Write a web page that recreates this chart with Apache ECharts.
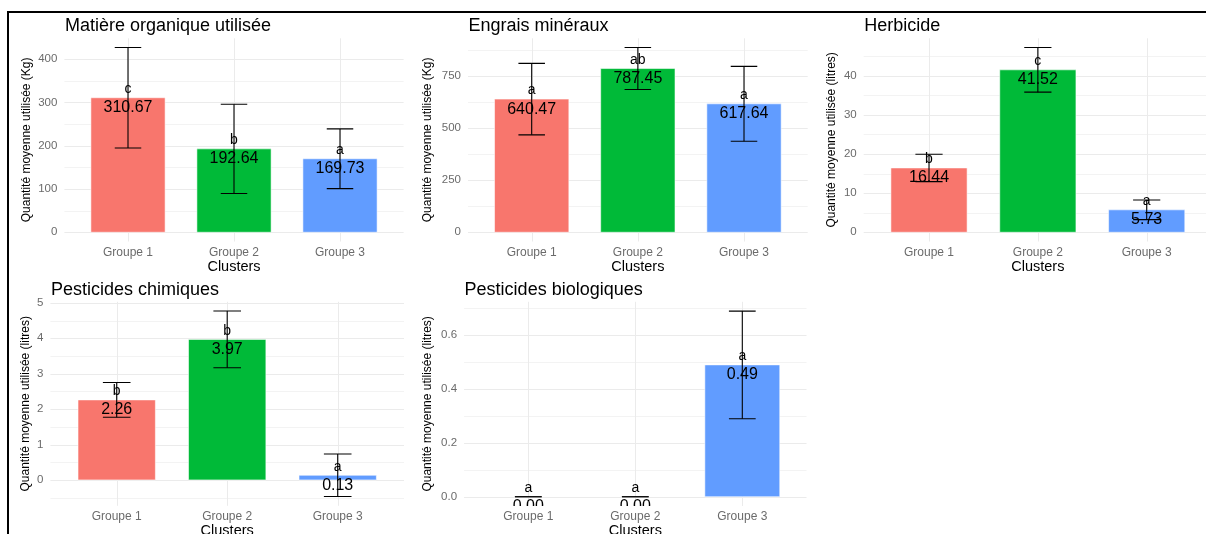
<!DOCTYPE html>
<html><head><meta charset="utf-8">
<script src="https://cdn.jsdelivr.net/npm/echarts@6/dist/echarts.min.js"></script>
<style>html,body{margin:0;padding:0;background:#fff}#c{width:1206px;height:534px}</style>
</head><body><div id="c"></div>
<script>
const categories = ['Groupe 1', 'Groupe 2', 'Groupe 3'];
const groupColors = ['#F8766D', '#00BA38', '#619CFF'];
const panelTitles = ['Matière organique utilisée', 'Engrais minéraux', 'Herbicide', 'Pesticides chimiques', 'Pesticides biologiques'];
const yTitles = ['Quantité moyenne utilisée (Kg)', 'Quantité moyenne utilisée (Kg)', 'Quantité moyenne utilisée (litres)', 'Quantité moyenne utilisée (litres)', 'Quantité moyenne utilisée (litres)'];
const xTitle = 'Clusters';

const organiqueMean = [310.67, 192.64, 169.73];
const organiqueSd = [116, 103, 69];
const organiqueLetters = ['c', 'b', 'a'];
const organiqueTicks = [0, 100, 200, 300, 400];
const organiqueTickLabels = ['0', '100', '200', '300', '400'];
const organiqueMinor = [50, 150, 250, 350, 450];

const engraisMean = [640.47, 787.45, 617.64];
const engraisSd = [172, 101, 180];
const engraisLetters = ['a', 'ab', 'a'];
const engraisTicks = [0, 250, 500, 750];
const engraisTickLabels = ['0', '250', '500', '750'];
const engraisMinor = [125, 375, 625, 875];

const herbicideMean = [16.44, 41.52, 5.73];
const herbicideSd = [3.5, 5.7, 2.5];
const herbicideLetters = ['b', 'c', 'a'];
const herbicideTicks = [0, 10, 20, 30, 40];
const herbicideTickLabels = ['0', '10', '20', '30', '40'];
const herbicideMinor = [5, 15, 25, 35, 45];

const chimiquesMean = [2.26, 3.97, 0.13];
const chimiquesSd = [0.49, 0.80, 0.60];
const chimiquesLetters = ['b', 'b', 'a'];
const chimiquesTicks = [0, 1, 2, 3, 4, 5];
const chimiquesTickLabels = ['0', '1', '2', '3', '4', '5'];
const chimiquesMinor = [-0.5, 0.5, 1.5, 2.5, 3.5, 4.5];

const biologiquesMean = [0, 0, 0.49];
const biologiquesSd = [0, 0, 0.20];
const biologiquesLetters = ['a', 'a', 'a'];
const biologiquesTicks = [0, 0.2, 0.4, 0.6];
const biologiquesTickLabels = ['0.0', '0.2', '0.4', '0.6'];
const biologiquesMinor = [0.1, 0.3, 0.5, 0.7];

const panels = [
  { mean: organiqueMean, sd: organiqueSd, letters: organiqueLetters, ticks: organiqueTicks, tickLabels: organiqueTickLabels, minor: organiqueMinor },
  { mean: engraisMean, sd: engraisSd, letters: engraisLetters, ticks: engraisTicks, tickLabels: engraisTickLabels, minor: engraisMinor },
  { mean: herbicideMean, sd: herbicideSd, letters: herbicideLetters, ticks: herbicideTicks, tickLabels: herbicideTickLabels, minor: herbicideMinor },
  { mean: chimiquesMean, sd: chimiquesSd, letters: chimiquesLetters, ticks: chimiquesTicks, tickLabels: chimiquesTickLabels, minor: chimiquesMinor },
  { mean: biologiquesMean, sd: biologiquesSd, letters: biologiquesLetters, ticks: biologiquesTicks, tickLabels: biologiquesTickLabels, minor: biologiquesMinor }
];

// layout (pixels)
const layout = [
  { left: 64.4, top: 38.3, width: 339.2, height: 203.2, yGap: 32.2, titleTop: 17.5 },
  { left: 468.0, top: 38.3, width: 339.7, height: 203.2, yGap: 34.2, titleTop: 17.5 },
  { left: 863.7, top: 38.3, width: 348.3, height: 203.2, yGap: 26.5, titleTop: 17.5 },
  { left: 50.4, top: 301.8, width: 353.6, height: 204.0, yGap: 18.5, titleTop: 281.0 },
  { left: 464.1, top: 301.8, width: 342.4, height: 204.2, yGap: 30.3, titleTop: 281.0 }
];

const FONT = 'Liberation Sans, Arial, Helvetica, sans-serif';
const BAR_W = 0.7, ERR_W = 0.25;

const option = {
  animation: false,
  backgroundColor: '#fff',
  title: [], grid: [], xAxis: [], yAxis: [], series: [],
  graphic: [{
    type: 'polyline', z: 100,
    shape: { points: [[8, 534], [8, 12], [1206, 12]] },
    style: { stroke: '#000', lineWidth: 2, fill: 'none' }
  }]
};

panels.forEach((p, i) => {
  const L = layout[i];
  const lows = p.mean.map((m, j) => m - p.sd[j]);
  const highs = p.mean.map((m, j) => m + p.sd[j]);
  const lo = Math.min(0, ...lows), hi = Math.max(0, ...highs);
  const pad = (hi - lo) * 0.05;
  const yMin = lo - pad, yMax = hi + pad;

  option.title.push({
    text: panelTitles[i], left: L.left + 0.5, top: L.titleTop, padding: 0,
    textStyle: { fontSize: 18, fontWeight: 'normal', color: '#000', fontFamily: FONT }
  });
  option.grid.push({ left: L.left, top: L.top, width: L.width, height: L.height, containLabel: false, outerBoundsMode: 'none' });
  option.xAxis.push({
    type: 'value', gridIndex: i, min: 0.4, max: 3.6,
    axisLine: { show: false }, axisTick: { show: false }, splitLine: { show: false },
    axisLabel: {
      customValues: [1, 2, 3], margin: 5,
      formatter: v => categories[Math.round(v) - 1] || '',
      color: '#6b6b6b', fontSize: 12, fontFamily: FONT
    },
    name: xTitle, nameLocation: 'middle', nameGap: 17,
    nameTextStyle: { color: '#000', fontSize: 14.5, fontFamily: FONT }
  });
  option.yAxis.push({
    type: 'value', gridIndex: i, min: yMin, max: yMax,
    axisLine: { show: false }, axisTick: { show: false }, splitLine: { show: false },
    axisLabel: {
      customValues: p.ticks, margin: 7,
      formatter: v => {
        let k = 0, d = Infinity;
        p.ticks.forEach((t, n) => { if (Math.abs(t - v) < d) { d = Math.abs(t - v); k = n; } });
        return p.tickLabels[k];
      },
      color: '#6b6b6b', fontSize: 11.5, fontFamily: FONT
    },
    name: yTitles[i], nameLocation: 'middle', nameGap: L.yGap, nameRotate: 90,
    nameTextStyle: { color: '#000', fontSize: 12, fontFamily: FONT }
  });

  // horizontal gridlines
  const hData = p.ticks.map(v => [v, 1]).concat(p.minor.filter(v => v > yMin && v < yMax).map(v => [v, 0]));
  option.series.push({
    type: 'custom', xAxisIndex: i, yAxisIndex: i, z: 1, silent: true,
    data: hData,
    encode: { x: -1, y: 0 },
    renderItem: (params, api) => {
      const cs = params.coordSys;
      const y = Math.round(api.coord([1, api.value(0)])[1]) + 0.5;
      return { type: 'line', shape: { x1: cs.x, y1: y, x2: cs.x + cs.width, y2: y },
        style: { stroke: api.value(1) ? '#ebebeb' : '#f3f3f3', lineWidth: 1 } };
    }
  });
  // vertical gridlines
  option.series.push({
    type: 'custom', xAxisIndex: i, yAxisIndex: i, z: 1, silent: true,
    data: [[1], [2], [3]],
    encode: { x: 0, y: -1 },
    renderItem: (params, api) => {
      const cs = params.coordSys;
      const x = Math.round(api.coord([api.value(0), 0])[0]) + 0.5;
      return { type: 'line', shape: { x1: x, y1: cs.y, x2: x, y2: cs.y + cs.height },
        style: { stroke: '#ebebeb', lineWidth: 1 } };
    }
  });
  // bars, error bars, letters, values
  option.series.push({
    type: 'custom', xAxisIndex: i, yAxisIndex: i, z: 2, clip: true,
    data: p.mean.map((m, j) => [j + 1, m, p.sd[j], j]),
    encode: { x: 0, y: 1 },
    renderItem: (params, api) => {
      const x = api.value(0), m = api.value(1), s = api.value(2), j = api.value(3);
      const a = api.coord([x - BAR_W / 2, 0]), b = api.coord([x + BAR_W / 2, m]);
      const c = api.coord([x, m]);
      const top = api.coord([x, m + s]), bot = api.coord([x, m - s]);
      const hw = api.coord([x + ERR_W / 2, m])[0] - c[0];
      const children = [];
      if (Math.abs(a[1] - b[1]) > 0.01) {
        children.push({ type: 'rect',
          shape: { x: a[0], y: Math.min(a[1], b[1]), width: b[0] - a[0], height: Math.abs(a[1] - b[1]) },
          style: { fill: groupColors[j], stroke: 'rgba(255,255,255,0.55)', lineWidth: 1 } });
      }
      const es = { stroke: '#000', lineWidth: 1.1 };
      children.push({ type: 'line', shape: { x1: c[0], y1: top[1], x2: c[0], y2: bot[1] }, style: es });
      children.push({ type: 'line', shape: { x1: c[0] - hw, y1: top[1], x2: c[0] + hw, y2: top[1] }, style: es });
      children.push({ type: 'line', shape: { x1: c[0] - hw, y1: bot[1], x2: c[0] + hw, y2: bot[1] }, style: es });
      children.push({ type: 'text', x: c[0], y: c[1] - 8.5,
        style: { text: p.letters[j], fill: '#000', fontSize: 14, fontFamily: FONT, align: 'center', verticalAlign: 'middle' } });
      children.push({ type: 'text', x: c[0], y: c[1] + 10,
        style: { text: m.toFixed(2), fill: '#000', fontSize: 16, fontFamily: FONT, align: 'center', verticalAlign: 'middle' } });
      return { type: 'group', children };
    }
  });
});

const chart = echarts.init(document.getElementById('c'), null, { renderer: 'canvas' });
chart.setOption(option);
</script>
</body></html>
